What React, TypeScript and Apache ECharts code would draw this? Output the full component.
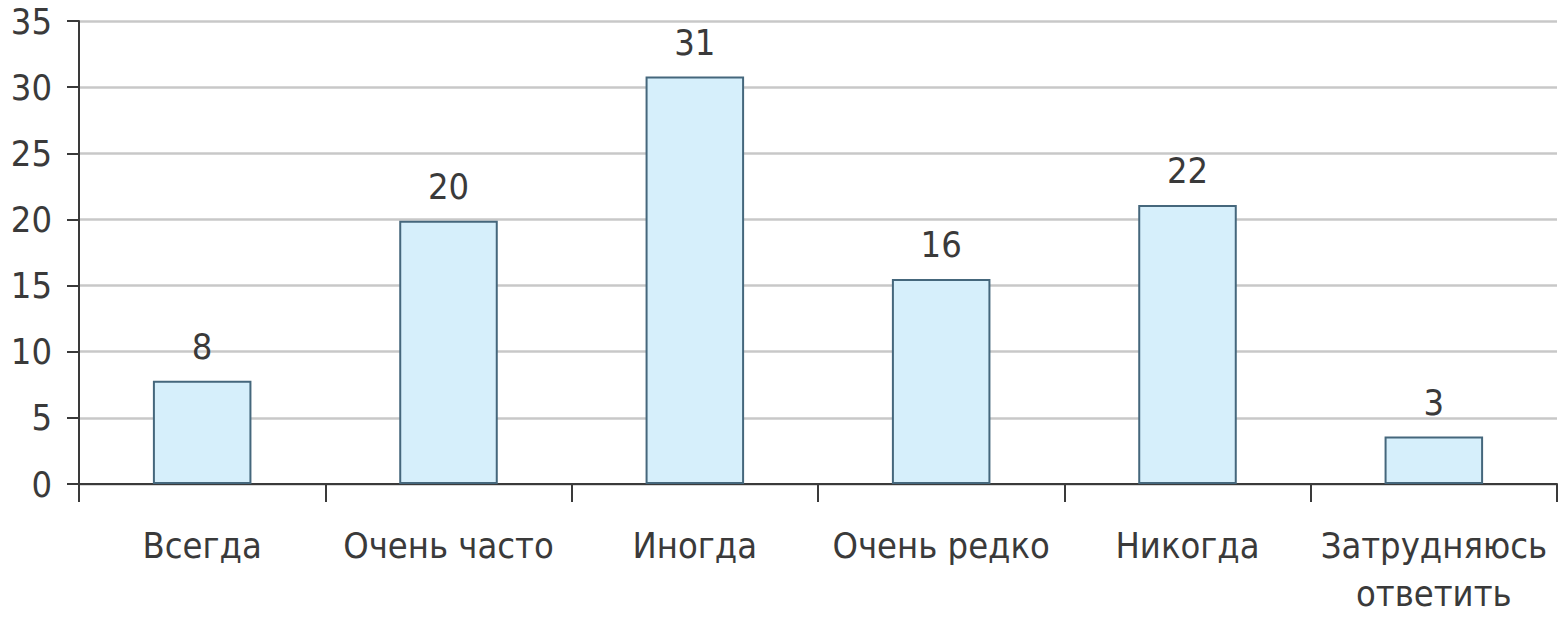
import React, { useEffect, useRef } from "react";
import * as echarts from "echarts";

const categories = ["Всегда", "Очень часто", "Иногда", "Очень редко", "Никогда", "Затрудняюсь\nответить"];
const barValues = [7.8, 19.9, 30.8, 15.5, 21.1, 3.6];
const valueLabels = ["8", "20", "31", "16", "22", "3"];
const yTicks = [0, 5, 10, 15, 20, 25, 30, 35];

const FONT = '"DejaVu Sans Condensed", "Liberation Sans Narrow", "Liberation Sans", sans-serif';

export default function App() {
  const ref = useRef<HTMLDivElement>(null);
  useEffect(() => {
    if (!ref.current) return;
    const chart = echarts.init(ref.current, null, { renderer: "svg" });
    chart.setOption({
      animation: false,
      backgroundColor: "#ffffff",
      grid: { left: 79, right: 2, top: 21, bottom: 130, containLabel: false },
      xAxis: {
        type: "category",
        data: categories,
        boundaryGap: true,
        axisLine: { show: true, lineStyle: { color: "#3a3a3a", width: 2 } },
        axisTick: { show: true, length: 18, alignWithLabel: false, lineStyle: { color: "#3a3a3a", width: 2 } },
        axisLabel: {
          interval: 0,
          margin: 37,
          color: "#3a3a3a",
          fontFamily: FONT,
          fontSize: 36,
          lineHeight: 48,
        },
        splitLine: { show: false },
      },
      yAxis: {
        type: "value",
        min: yTicks[0],
        max: yTicks[yTicks.length - 1],
        interval: 5,
        axisLine: { show: true, lineStyle: { color: "#3a3a3a", width: 2 } },
        axisTick: { show: true, length: 12, lineStyle: { color: "#3a3a3a", width: 2 } },
        axisLabel: {
          margin: 27,
          color: "#3a3a3a",
          fontFamily: FONT,
          fontSize: 36,
        },
        splitLine: { show: true, lineStyle: { color: "#c8c8c8", width: 2.5 } },
      },
      series: [
        {
          type: "bar",
          data: barValues,
          barWidth: "40%",
          itemStyle: { color: "#d6effb", borderColor: "#45677c", borderWidth: 2 },
          label: {
            show: true,
            position: "top",
            distance: 16,
            color: "#3a3a3a",
            fontFamily: FONT,
            fontSize: 36,
            formatter: (p: any) => valueLabels[p.dataIndex],
          },
        },
      ],
    });
    return () => chart.dispose();
  }, []);
  return <div ref={ref} style={{ width: 1559, height: 617, position: "absolute", left: 0, top: 0 }} />;
}
